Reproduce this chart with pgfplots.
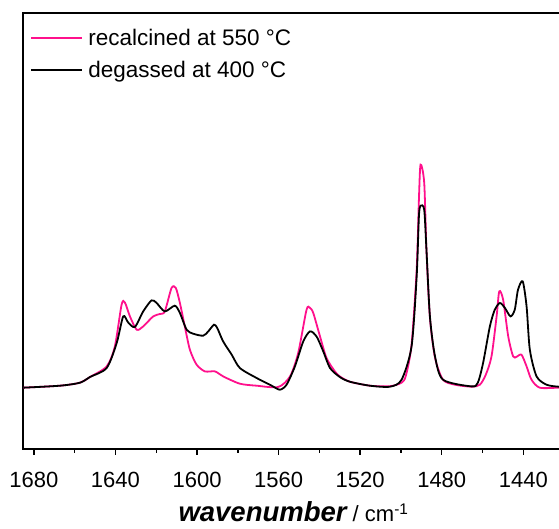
\documentclass[border=0pt]{standalone}
\usepackage{fontspec}
\setmainfont{Liberation Sans}
\usepackage{pgfplots}
\pgfplotsset{compat=1.18}
\definecolor{rpink}{RGB}{255,16,140}
\pgfplotsset{mylegline/.style={legend image code/.code={\draw[##1, line width=1.8pt] (0pt,0pt) -- (51pt,0pt);}}}
\pgfplotstableread{
wn h
1685.4 61
1667.2 63
1657.4 66
1652.5 71.7
1644.3 82.3
1640.3 102.3
1637.0 144
1635.4 146.3
1632.9 132.3
1629.6 119
1626.4 122.3
1621.5 132.3
1618.2 134.7
1615.8 137.3
1612.5 160.7
1610.4 160.7
1608.4 145.7
1606.0 122.3
1603.5 99
1600.2 84
1596.1 77.3
1591.2 77.3
1587.2 72.3
1579.0 65
1570.8 63
1560.2 61.7
1554.4 72.3
1550.4 95.7
1546.3 139
1544.6 140.7
1543.0 135.7
1539.7 112.3
1536.5 90.7
1532.4 77.3
1530.0 72.3
1525.1 67
1515.2 63
1505.4 62.5
1499.7 66
1497.6 73
1494.8 104
1492.3 179
1491.2 249
1490.4 284
1488.6 266
1487.5 199
1485.8 131
1483.3 91
1479.4 69
1473.5 64
1465.4 62
1461.3 64
1458.4 74
1455.6 92.3
1453.1 132.3
1451.8 157.3
1449.9 149
1447.4 112.3
1445.0 92.3
1443.2 92
1440.9 94
1438.4 82.3
1436.0 69
1431.9 61
1422.6 61
1415.0 61
}\pink
\pgfplotstableread{
wn h
1685.4 61
1667.2 63
1657.4 66
1652.5 71.7
1644.3 80.7
1639.4 105.7
1636.2 132.3
1633.8 126.3
1630.5 121.7
1626.4 137.3
1622.3 148.3
1619.8 145.7
1615.8 137.3
1610.9 143
1608.4 135.7
1605.1 119
1601.9 115
1597.0 113
1594.5 117.3
1591.7 124
1590.1 120.7
1587.2 107.3
1583.0 94
1579.0 80.7
1570.8 70.7
1563.4 63
1559.4 59
1556.1 64
1552.0 82.3
1547.9 107.3
1544.6 117.3
1541.4 112.3
1538.1 97.3
1534.8 80.7
1530.0 71.7
1525.1 67
1515.2 63
1505.4 62
1499.7 69
1494.8 102.3
1492.3 172.3
1491.2 232.3
1490.4 243
1488.6 239
1487.5 199
1485.8 132.3
1483.3 92.3
1479.4 69
1465.4 62.3
1462.3 66
1459.7 86
1456.4 122.3
1454.0 139
1451.5 145.7
1449.1 141
1446.3 132.3
1444.2 139
1442.6 159
1440.3 167.3
1438.4 142.3
1436.8 99
1433.5 72.3
1428.6 64
1422.6 62
1415.0 62
}\black
\begin{document}
\begin{tikzpicture}
\begin{axis}[
  at={(0,0)}, anchor=south west, scale only axis,
  width=551pt, height=436pt,
  x dir=reverse, xmin=1415, xmax=1685.2, ymin=0, ymax=436,
  xtick={1440,1480,...,1680}, minor xtick={1420,1460,...,1660},
  ytick=\empty,
  tick align=outside, xtick pos=bottom,
  major tick length=6pt, minor tick length=4pt,
  every tick/.style={black, line width=1.5pt},
  axis line style={line width=2pt},
  tick label style={font=\fontsize{22}{24}\selectfont},
  /pgf/number format/assume math mode=true,
  /pgf/number format/1000 sep={},
  xticklabel style={anchor=base, yshift=-32.7pt},
  xlabel={{\fontsize{27.5}{30}\selectfont\bfseries\itshape wavenumber}{\fontsize{22}{24}\selectfont\ / cm\textsuperscript{-1}}},
  xlabel style={at={(axis description cs:0.4904,0)}, anchor=base, yshift=-73pt},
  legend cell align=left,
  legend style={draw=none, fill=none, at={(axis description cs:0,1)}, anchor=north west,
    xshift=4pt, yshift=-12pt, font=\fontsize{22.5}{25}\selectfont, row sep=10.6pt,
    /tikz/every odd column/.append style={column sep=3pt}},
  mylegline,
]
\addplot[rpink, line width=1.8pt, smooth, tension=0.45] table[x=wn, y=h] {\pink};
\addlegendentry{recalcined at 550 °C}
\addplot[black, line width=1.8pt, smooth, tension=0.45] table[x=wn, y=h] {\black};
\addlegendentry{degassed at 400 °C}
\end{axis}
\pgfresetboundingbox
\useasboundingbox (-23.3pt,-80pt) rectangle (535.7pt,448.7pt);
\end{tikzpicture}
\end{document}
